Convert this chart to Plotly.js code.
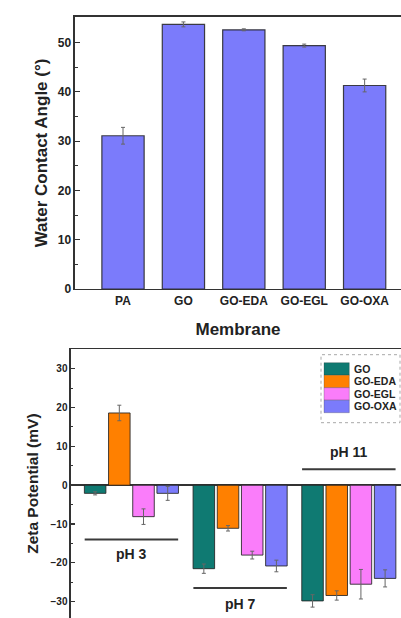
<!DOCTYPE html>
<html>
<head>
<meta charset="utf-8">
<script src="https://cdn.plot.ly/plotly-3.0.1.min.js"></script>
<style>
  html, body { margin: 0; padding: 0; background: #ffffff; overflow: hidden; }
  #chart { width: 401px; height: 618px; }
</style>
</head>
<body>
<div id="chart"></div>
<script>
// ---- Data: water contact angle (top panel) ----
const membranes = ['PA', 'GO', 'GO-EDA', 'GO-EGL', 'GO-OXA'];
const contactAngle = [31.1, 53.7, 52.6, 49.4, 41.3];
const contactAngleErr = [1.7, 0.5, 0.2, 0.3, 1.3];

// ---- Data: zeta potential (bottom panel) ----
const phGroups = ['pH 3', 'pH 7', 'pH 11'];
const zetaGO = [-2.1, -21.5, -29.8];
const zetaGOErr = [0.4, 1.2, 1.6];
const zetaEDA = [18.6, -11.1, -28.4];
const zetaEDAErr = [2.0, 0.7, 1.2];
const zetaEGL = [-8.1, -18.0, -25.5];
const zetaEGLErr = [2.0, 1.0, 3.8];
const zetaOXA = [-2.1, -20.8, -24.0];
const zetaOXAErr = [1.8, 1.5, 2.2];
const zetaSeriesNames = ['GO', 'GO-EDA', 'GO-EGL', 'GO-OXA'];
// level (mV) of the bracket line and label drawn for each pH group
const phLineLevel = [-14, -26.5, 4.1];
const phLabelLevel = [-17.7, -30.5, 8.6];

const W = 401, H = 618;
const FONT = '"Liberation Sans", Arial, sans-serif';
const INK = '#222222';
const AXIS = '#333333';
const OUTLINE = 'rgba(35,35,35,0.85)';
const ERR = '#666666';

const zetaColors = ['#0f7a72', '#ff8000', '#fa7dfa', '#7b7bfb'];
const zetaValues = [zetaGO, zetaEDA, zetaEGL, zetaOXA];
const zetaErrs = [zetaGOErr, zetaEDAErr, zetaEGLErr, zetaOXAErr];

// page pixel -> paper fraction (margins are zero, so paper == page)
const px = v => v / W;
const py = v => (H - v) / H;

const traces = [];
traces.push({
  type: 'bar',
  x: membranes,
  y: contactAngle,
  width: 0.7,
  xaxis: 'x',
  yaxis: 'y',
  showlegend: false,
  marker: { color: '#7b7bfb', line: { color: OUTLINE, width: 1.2 } },
  error_y: { type: 'data', array: contactAngleErr, visible: true, color: ERR, thickness: 1, width: 2 },
  hoverinfo: 'x+y'
});

for (let i = 0; i < zetaSeriesNames.length; i++) {
  traces.push({
    type: 'bar',
    name: zetaSeriesNames[i],
    x: phGroups,
    y: zetaValues[i],
    xaxis: 'x2',
    yaxis: 'y2',
    showlegend: false,
    marker: { color: zetaColors[i], line: { color: OUTLINE, width: 1 } },
    error_y: { type: 'data', array: zetaErrs[i], visible: true, color: ERR, thickness: 1, width: 2 }
  });
}

const shapes = [];
const annotations = [];
phGroups.forEach((g, i) => {
  shapes.push({
    type: 'line', xref: 'x2', yref: 'y2',
    x0: i - 0.43, x1: i + 0.43, y0: phLineLevel[i], y1: phLineLevel[i],
    line: { color: '#3a3a3a', width: 2 }
  });
  annotations.push({
    xref: 'x2', yref: 'y2', x: i, y: phLabelLevel[i],
    text: '<b>' + g + '</b>', showarrow: false,
    font: { family: FONT, size: 14, color: INK }
  });
});

// ---- legend box for the zeta-potential panel (built from series names / colours) ----
const LEG = { left: 321, right: 400, top: 354.7, bottom: 422.7, swL: 324, swR: 349.3, firstTop: 362.7, step: 12.5, textX: 351.5 };
shapes.push({
  type: 'rect', xref: 'paper', yref: 'paper',
  x0: px(LEG.left), x1: px(LEG.right), y0: py(LEG.bottom), y1: py(LEG.top),
  fillcolor: '#ffffff', line: { color: '#a8a8a8', width: 1, dash: 'dot' }, layer: 'above'
});
zetaSeriesNames.forEach((name, i) => {
  const t = LEG.firstTop + i * LEG.step;
  shapes.push({
    type: 'rect', xref: 'paper', yref: 'paper',
    x0: px(LEG.swL), x1: px(LEG.swR), y0: py(t + LEG.step), y1: py(t),
    fillcolor: zetaColors[i], line: { color: 'rgba(40,40,40,0.5)', width: 0.5 }, layer: 'above'
  });
  annotations.push({
    xref: 'paper', yref: 'paper', x: px(LEG.textX), y: py(t + LEG.step / 2),
    xanchor: 'left', yanchor: 'middle', showarrow: false,
    text: '<b>' + name + '</b>',
    font: { family: FONT, size: 10.5, color: INK }
  });
});

const layout = {
  width: W,
  height: H,
  margin: { l: 0, r: 0, t: 0, b: 0 },
  paper_bgcolor: '#ffffff',
  plot_bgcolor: '#ffffff',
  barmode: 'group',
  bargap: 0.11,
  bargroupgap: 0.11,
  font: { family: FONT, color: INK },
  showlegend: false,
  xaxis: {
    domain: [0.187, 1],
    anchor: 'y',
    type: 'category',
    range: [-0.795, 4.602],
    showline: true, linecolor: AXIS, linewidth: 1.5, mirror: true,
    ticks: '', showgrid: false, zeroline: false,
    tickfont: { family: FONT, size: 12, color: INK, weight: 'bold' },
    title: { text: '<b>Membrane</b>', font: { family: FONT, size: 17, color: INK }, standoff: 16 }
  },
  yaxis: {
    domain: [0.5324, 0.9725],
    anchor: 'x',
    range: [0, 55.2],
    dtick: 10,
    ticks: 'inside', ticklen: 5, tickwidth: 1.2, tickcolor: AXIS,
    minor: { dtick: 5, ticks: 'inside', ticklen: 3, tickcolor: AXIS, tickwidth: 1 },
    showline: true, linecolor: AXIS, linewidth: 1.5, mirror: false,
    showgrid: false, zeroline: false,
    tickfont: { family: FONT, size: 12, color: INK, weight: 'bold' },
    title: { text: '<b>Water Contact Angle (°)</b>', font: { family: FONT, size: 17, color: INK }, standoff: 6 }
  },
  xaxis2: {
    domain: [0.177, 1],
    anchor: 'y2',
    side: 'top',
    type: 'category',
    range: [-0.556, 2.48],
    showline: true, linecolor: AXIS, linewidth: 1.5,
    showticklabels: false, ticks: '', showgrid: false, zeroline: false
  },
  yaxis2: {
    domain: [0, 0.4348],
    anchor: 'x2',
    range: [-34.2, 35],
    dtick: 10,
    ticks: 'inside', ticklen: 4, tickwidth: 1.2, tickcolor: AXIS,
    minor: { dtick: 5, ticks: 'inside', ticklen: 2.5, tickcolor: AXIS, tickwidth: 1 },
    showline: true, linecolor: AXIS, linewidth: 1.5,
    showgrid: false,
    zeroline: true, zerolinecolor: AXIS, zerolinewidth: 1.5,
    tickfont: { family: FONT, size: 10, color: INK, weight: 'bold' },
    title: { text: '<b>Zeta Potential (mV)</b>', font: { family: FONT, size: 15.5, color: INK }, standoff: 8 }
  },
  shapes: shapes,
  annotations: annotations
};

Plotly.newPlot('chart', traces, layout, { displayModeBar: false, staticPlot: true });
</script>
</body>
</html>
